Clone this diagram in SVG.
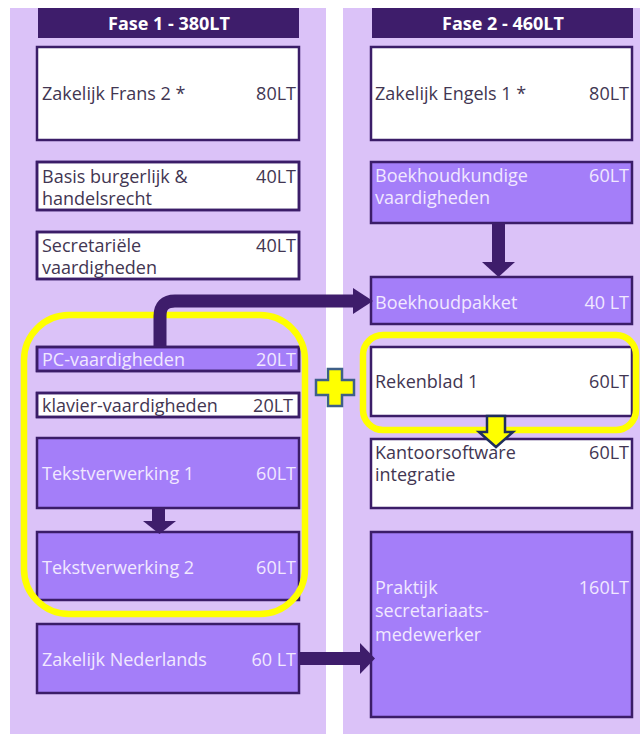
<svg xmlns="http://www.w3.org/2000/svg" width="644" height="734" viewBox="0 0 644 734">
<style>
.bg{fill:#dbc2f8}
.hd{fill:#3e1d6b}
.ht{font-family:"Open Sans","Liberation Sans",sans-serif;font-weight:bold;font-size:18px;fill:#ffffff;text-anchor:middle}
.w{fill:#ffffff;stroke:#3b1d68;stroke-width:2.5}
.p{fill:#a47ef9;stroke:#3b1d68;stroke-width:2.5}
.o{fill:none;stroke:#3b1d68;stroke-width:2.5}
.t{font-family:"Open Sans","Liberation Sans",sans-serif;font-size:18px}
.dk{fill:#423652}
.lt{fill:#f1e8ff}
.r{text-anchor:end}
.yl{fill:none;stroke:#ffff00;stroke-width:6.5}
.arr{fill:#3e1d6b}
</style>
<rect class="bg" x="10" y="8" width="316" height="726"/>
<rect class="bg" x="343" y="8" width="297" height="726"/>

<g id="header1"><rect class="hd" x="38" y="8" width="261" height="30"/><text class="ht" x="169" y="30">Fase 1 - 380LT</text></g>
<g id="header2"><rect class="hd" x="372" y="8" width="261" height="30"/><text class="ht" x="503" y="30">Fase 2 - 460LT</text></g>

<g id="frans"><rect class="w" x="37" y="47" width="262" height="93"/><text class="t dk" x="42" y="100">Zakelijk Frans 2 *</text><text class="t dk r" x="296" y="100">80LT</text></g>
<g id="basis"><rect class="w" x="37" y="162" width="262" height="48"/><text class="t dk" x="42" y="183">Basis burgerlijk &amp;</text><text class="t dk" x="42" y="205">handelsrecht</text><text class="t dk r" x="296" y="183">40LT</text><rect class="o" x="37" y="162" width="262" height="48"/></g>
<g id="secretariele"><rect class="w" x="37" y="232" width="262" height="47"/><text class="t dk" x="42" y="252">Secretariële</text><text class="t dk" x="42" y="274">vaardigheden</text><text class="t dk r" x="296" y="252">40LT</text><rect class="o" x="37" y="232" width="262" height="47"/></g>
<g id="pc"><rect class="p" x="37" y="347" width="262" height="24"/><text class="t lt" x="42" y="366">PC-vaardigheden</text><text class="t lt r" x="296" y="366">20LT</text><rect class="o" x="37" y="347" width="262" height="24"/></g>
<g id="klavier"><rect class="w" x="37" y="393" width="262" height="24"/><text class="t dk" x="42" y="412">klavier-vaardigheden</text><text class="t dk r" x="293" y="412">20LT</text><rect class="o" x="37" y="393" width="262" height="24"/></g>
<g id="tekst1"><rect class="p" x="37" y="438" width="262" height="70"/><text class="t lt" x="42" y="480">Tekstverwerking 1</text><text class="t lt r" x="296" y="480">60LT</text></g>
<g id="tekst2"><rect class="p" x="37" y="532" width="262" height="68"/><text class="t lt" x="42" y="574">Tekstverwerking 2</text><text class="t lt r" x="296" y="574">60LT</text></g>
<g id="nederlands"><rect class="p" x="37" y="624" width="262" height="69"/><text class="t lt" x="42" y="666">Zakelijk Nederlands</text><text class="t lt r" x="296" y="666">60 LT</text></g>

<g id="engels"><rect class="w" x="371" y="47" width="261" height="93"/><text class="t dk" x="375" y="100">Zakelijk Engels 1 *</text><text class="t dk r" x="629" y="100">80LT</text></g>
<g id="boekhoudkundige"><rect class="p" x="371" y="162" width="261" height="61"/><text class="t lt" x="375" y="182">Boekhoudkundige</text><text class="t lt" x="375" y="204">vaardigheden</text><text class="t lt r" x="629" y="182">60LT</text></g>
<g id="boekhoudpakket"><rect class="p" x="371" y="277" width="261" height="47"/><text class="t lt" x="375" y="309">Boekhoudpakket</text><text class="t lt r" x="629" y="309">40 LT</text></g>
<g id="rekenblad"><rect class="w" x="371" y="347" width="261" height="69"/><text class="t dk" x="375" y="388">Rekenblad 1</text><text class="t dk r" x="629" y="388">60LT</text></g>
<g id="kantoorsoftware"><rect class="w" x="371" y="439" width="261" height="69"/><text class="t dk" x="375" y="459">Kantoorsoftware</text><text class="t dk" x="375" y="481">integratie</text><text class="t dk r" x="629" y="459">60LT</text></g>
<g id="praktijk"><rect class="p" x="371" y="532" width="261" height="185"/><text class="t lt" x="375" y="594">Praktijk</text><text class="t lt" x="375" y="617">secretariaats-</text><text class="t lt" x="375" y="641">medewerker</text><text class="t lt r" x="629" y="594">160LT</text></g>

<g id="groups">
<rect class="yl" x="24" y="315" width="281" height="299" rx="45"/>
<rect class="yl" x="363" y="335" width="273" height="95" rx="20"/>
</g>

<g id="plus"><path d="M328,369 H342 V380 H354 V395 H342 V406 H328 V395 H316 V380 H328 Z" fill="#ffff00" stroke="#3e5f88" stroke-width="2.5"/></g>

<g id="connectors">
<path d="M160,347 V316 Q160,301 175,301 H355" fill="none" stroke="#3e1d6b" stroke-width="13"/>
<polygon class="arr" points="353,288 373,301 353,314"/>
<rect class="arr" x="492" y="223" width="13" height="40"/>
<polygon class="arr" points="482,262 515,262 498.5,277"/>
<rect class="arr" x="152" y="508" width="13" height="15"/>
<polygon class="arr" points="143,521 176,521 159.5,534"/>
<rect class="arr" x="299" y="652" width="62" height="13"/>
<polygon class="arr" points="360,643 375,658.5 360,674"/>
<path d="M487,416 H505 V432 H513 L496,447 L479,432 H487 Z" fill="#ffff00" stroke="#1f2d5c" stroke-width="2.5"/>
</g>
</svg>
